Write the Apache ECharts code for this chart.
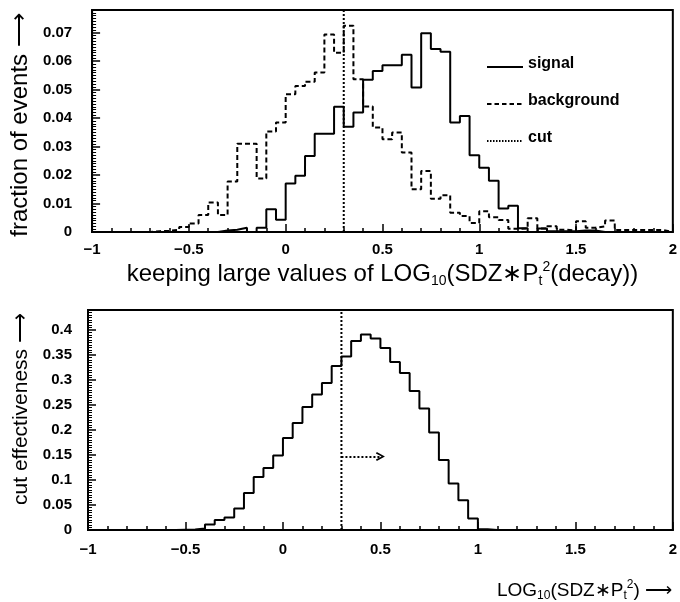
<!DOCTYPE html>
<html><head><meta charset="utf-8">
<script src="https://cdn.jsdelivr.net/npm/echarts@6/dist/echarts.min.js"></script>
<style>html,body{margin:0;padding:0;background:#fff}#c{width:680px;height:602px}</style>
</head><body><div id="c"></div><script>
// histogram binning
const binStart = -1;
const binWidth = 0.05;
// top panel: fraction of events per bin (60 bins from -1 to 2)
const signal = [
  0,0,0,0,0, 0,0,0,0,0,
  0,0,0,0.0005,0.0008, 0.0015,0,0.0015,0.008,0.0043,
  0.017,0.0198,0.0267,0.0345,0.0345, 0.044,0.037,0.042,0.0535,0.0566,
  0.0586,0.0586,0.0623,0.0508,0.0698, 0.0643,0.0633,0.0385,0.0408,0.027,
  0.0226,0.018,0.0083,0.0092,0.0013, 0,0.0012,0.0003,0.0003,0.0003,
  0.0005,0.0005,0,0,0, 0,0,0,0,0
];
const background = [
  0,0,0,0,0, 0,0.0003,0.0004,0.0008,0.0018,
  0.003,0.006,0.0104,0.006,0.0177, 0.031,0.031,0.0188,0.0353,0.0385,
  0.0484,0.0513,0.0528,0.056,0.0694, 0.063,0.0725,0.0537,0.0441,0.0367,
  0.0326,0.035,0.0279,0.015,0.0214, 0.0117,0.0129,0.0068,0.0056,0.0032,
  0.0073,0.0052,0.0042,0.0011,0.0012, 0.0048,0.0012,0.002,0.0008,0.0005,
  0.0038,0.0015,0.002,0.004,0.0007, 0.0007,0.0007,0.0007,0.0007,0
];
// bottom panel: cut effectiveness per bin
const effectiveness = [
  0,0,0,0,0, 0,0,0,0,0.0005,
  0.001,0.003,0.011,0.02,0.025, 0.043,0.074,0.106,0.124,0.149,
  0.184,0.214,0.246,0.271,0.294, 0.328,0.347,0.378,0.391,0.383,
  0.364,0.336,0.314,0.278,0.243, 0.195,0.14,0.093,0.0595,0.023,
  0.0013,0,0,0,0, 0,0,0,0,0,
  0,0,0,0,0, 0,0,0,0,0
];
const seriesNames = ['signal', 'background', 'cut'];
const cutValue = 0.3;
const arrowFrom = 0.3, arrowTo = 0.5, arrowLevel = 0.147;
const xMin = -1, xMax = 2, xStep = 0.5;
const topYMax = 0.078, topYStep = 0.01;
const botYMax = 0.44, botYStep = 0.05;

function steps(values) {
  const pts = values.map((v, i) => [binStart + i * binWidth, v]);
  pts.push([binStart + values.length * binWidth, values[values.length - 1]]);
  return pts;
}

const F = 'Liberation Sans';
const black = '#000';
const ARROW = '\u27F6';

function iconPath(kind) {
  // box 36 x 16; tiny corner marks keep the bounding box
  let p = 'path://M0,0h0.01v0.01h-0.01z M35.99,15.99h0.01v0.01h-0.01z ';
  if (kind === 'solid') p += 'M0,10h36v2h-36z';
  else if (kind === 'dashed') { for (let x = 0; x < 36; x += 7.5) p += 'M' + x + ',10h4.5v2h-4.5z '; }
  else { for (let x = 0; x < 36; x += 3) p += 'M' + x + ',10h1.5v2h-1.5z '; }
  return p;
}

function xAxisCfg(grid, margin, extra) {
  return Object.assign({
    type: 'value', gridIndex: grid, min: xMin, max: xMax, interval: xStep,
    axisLine: { show: true, onZero: false, lineStyle: { color: black, width: 2 } },
    axisTick: { show: true, inside: true, length: 8, lineStyle: { color: black, width: 1.5 } },
    minorTick: { show: true, splitNumber: 5, length: 4, lineStyle: { color: black, width: 1.5 } },
    splitLine: { show: false },
    axisLabel: { margin: margin, color: black, fontFamily: F, fontWeight: 'bold', fontSize: 15,
      formatter: v => String(v).replace('-', '\u2212') }
  }, extra || {});
}
function yAxisCfg(grid, max, step, margin, extra) {
  return Object.assign({
    type: 'value', gridIndex: grid, min: 0, max: max, interval: step,
    axisLine: { show: true, onZero: false, lineStyle: { color: black, width: 2 } },
    axisTick: { show: true, inside: true, length: 8, lineStyle: { color: black, width: 1.5 } },
    minorTick: { show: true, splitNumber: 10, length: 4, lineStyle: { color: black, width: 1 } },
    splitLine: { show: false },
    axisLabel: { margin: margin, color: black, fontFamily: F, fontWeight: 'bold', fontSize: 15, showMaxLabel: false }
  }, extra || {});
}
const richSub = (size) => ({
  sub: { fontFamily: F, fontSize: size, color: black, verticalAlign: 'bottom', lineHeight: size },
  sup: { fontFamily: F, fontSize: size, color: black, verticalAlign: 'top', lineHeight: size }
});

const chart = echarts.init(document.getElementById('c'), null, { renderer: 'canvas' });
chart.setOption({
  animation: false,
  backgroundColor: '#fff',
  title: {
    text: 'LOG{sub|10}(SDZ\u2217P{sub|t}{sup|2}) ' + ARROW,
    right: 3, top: 574,
    textStyle: { fontFamily: F, fontSize: 19, fontWeight: 'normal', color: black, lineHeight: 23, rich: richSub(12) }
  },
  legend: {
    orient: 'vertical', left: 482, top: 51, itemWidth: 36, itemHeight: 16, itemGap: 21,
    selectedMode: false,
    textStyle: { fontFamily: F, fontSize: 16, fontWeight: 'bold', color: black },
    data: [
      { name: seriesNames[0], icon: iconPath('solid') },
      { name: seriesNames[1], icon: iconPath('dashed') },
      { name: seriesNames[2], icon: iconPath('dotted') }
    ]
  },
  grid: [
    { left: 90, top: 10, right: 7, height: 222, show: true, borderColor: black, borderWidth: 2 },
    { left: 88, top: 310, right: 7, height: 220, show: true, borderColor: black, borderWidth: 2 }
  ],
  xAxis: [
    xAxisCfg(0, 10, {
      name: 'keeping large values of LOG{sub|10}(SDZ\u2217P{sub|t}{sup|2}(decay))',
      nameLocation: 'middle', nameGap: 28,
      nameTextStyle: { fontFamily: F, fontSize: 24, color: black, lineHeight: 28, rich: richSub(14) }
    }),
    xAxisCfg(1, 12)
  ],
  yAxis: [
    yAxisCfg(0, topYMax, topYStep, 20, {
      name: 'fraction of events ' + ARROW, nameLocation: 'middle', nameGap: 54, nameRotate: 90,
      nameTextStyle: { fontFamily: F, fontSize: 24, color: black, padding: [0, 8, 0, 0] }
    }),
    yAxisCfg(1, botYMax, botYStep, 16, {
      name: 'cut effectiveness ' + ARROW, nameLocation: 'middle', nameGap: 52, nameRotate: 90,
      nameTextStyle: { fontFamily: F, fontSize: 21, color: black, padding: [0, 0, 0, 22] }
    })
  ],
  series: [
    { name: seriesNames[0], type: 'line', xAxisIndex: 0, yAxisIndex: 0, step: 'end', showSymbol: false, symbol: 'none',
      data: steps(signal), lineStyle: { color: black, width: 2 }, itemStyle: { color: black } },
    { name: seriesNames[1], type: 'line', xAxisIndex: 0, yAxisIndex: 0, step: 'end', showSymbol: false, symbol: 'none',
      data: steps(background), lineStyle: { color: black, width: 2, type: [5, 3] }, itemStyle: { color: black } },
    { name: seriesNames[2], type: 'line', xAxisIndex: 0, yAxisIndex: 0, showSymbol: false, symbol: 'none',
      data: [[cutValue, 0], [cutValue, topYMax]], lineStyle: { color: black, width: 2, type: [2, 2] }, itemStyle: { color: black } },
    { name: 'effectiveness', type: 'line', xAxisIndex: 1, yAxisIndex: 1, step: 'end', showSymbol: false, symbol: 'none',
      data: steps(effectiveness), lineStyle: { color: black, width: 2 }, itemStyle: { color: black } },
    { name: 'cut ', type: 'line', xAxisIndex: 1, yAxisIndex: 1, showSymbol: false, symbol: 'none',
      data: [[cutValue, 0], [cutValue, botYMax]], lineStyle: { color: black, width: 2, type: [2, 2] }, itemStyle: { color: black },
      markLine: {
        silent: true, animation: false,
        symbol: ['none', 'path://M5,0L10,9L8.4,10L5,3.6L1.6,10L0,9Z'], symbolSize: [9, 9],
        label: { show: false },
        lineStyle: { color: black, width: 2, type: [2, 2] },
        data: [[{ coord: [arrowFrom, arrowLevel] }, { coord: [arrowTo, arrowLevel] }]]
      } }
  ]
});
</script></body></html>
